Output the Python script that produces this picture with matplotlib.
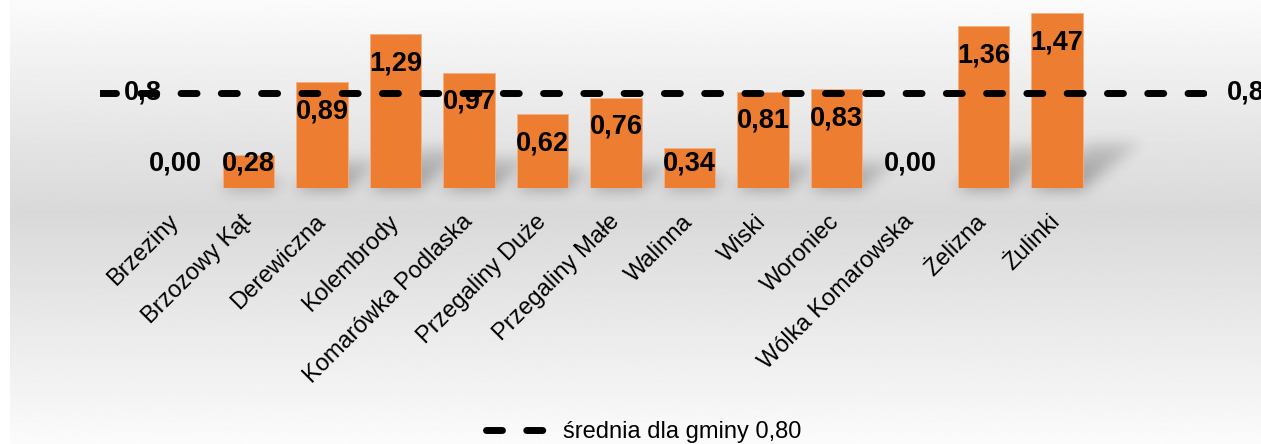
import numpy as np
import matplotlib
matplotlib.use('Agg')
import matplotlib.pyplot as plt

plt.rcParams['font.family'] = ['Liberation Sans', 'DejaVu Sans']

# sołectwa and their index values
villages = ['Brzeziny', 'Brzozowy Kąt', 'Derewiczna', 'Kolembrody',
            'Komarówka Podlaska', 'Przegaliny Duże', 'Przegaliny Małe',
            'Walinna', 'Wiski', 'Woroniec', 'Wólka Komarowska',
            'Żelizna', 'Żulinki']
values = [0.00, 0.28, 0.89, 1.29, 0.97, 0.62, 0.76, 0.34, 0.81, 0.83,
          0.00, 1.36, 1.47]
avg = 0.80
avg_label = 'średnia dla gminy 0,80'

W, H = 1261, 444
bar_w = 0.7
fig = plt.figure(figsize=(W / 100, H / 100), dpi=100)

# grey band in the background, light at top and bottom
bg = fig.add_axes([10 / W, 0, 1 - 10 / W, 1], zorder=-3)
rows = np.linspace(0, 1, 400)
mid = 0.48
shade = np.where(rows < mid, 0.985 - (0.985 - 0.85) * rows / mid,
                 0.85 + (0.985 - 0.85) * (rows - mid) / (1 - mid))
bg.imshow(np.repeat(shade[:, None], 2, axis=1), cmap='gray', vmin=0, vmax=1,
          aspect='auto', extent=(0, 1, 1, 0))
bg.set_axis_off()

ax_rect = [100 / W, (H - 188) / H, 1107 / W, 188 / H]
ax = fig.add_axes(ax_rect, zorder=0)
ax.patch.set_alpha(0)
x = np.arange(len(villages))
ax.set_xlim(-75 / 73.5, 1032 / 73.5)
ax.set_ylim(0, 188 / 119)
ax.bar(x, values, width=bar_w, color='#ED7D31', edgecolor='#F4B183', lw=0.6, zorder=2)

# soft slanted shadows behind the bars, built in pixel space and blurred
below = 15
x0, y0 = ax.transData.transform((ax.get_xlim()[0], 0))
gw, gh = 1107, 188 + below
gx = np.arange(gw)[None, :] + 0.5
gy = (np.arange(gh)[::-1] - below)[:, None] + 0.5
mask = np.zeros((gh, gw))
for i, v in zip(x, values):
    if v <= 0:
        continue
    xl = ax.transData.transform((i - bar_w / 2, 0))[0] - x0
    xr = ax.transData.transform((i + bar_w / 2, 0))[0] - x0
    h = ax.transData.transform((i, v))[1] - y0
    top = 0.26 * h
    shift = np.clip(gy, 0, None) * 1.3
    inside = (gy >= -2) & (gy <= top) & (gx >= xl + shift) & (gx <= xr + shift)
    fade = 1 - np.clip(gy, 0, None) / max(top, 1) * 0.6
    mask = np.maximum(mask, inside * fade)
sig = 7
k = np.exp(-0.5 * (np.arange(-3 * sig, 3 * sig + 1) / sig) ** 2)
k /= k.sum()
mask = np.apply_along_axis(lambda r: np.convolve(r, k, mode='same'), 1, mask)
mask = np.apply_along_axis(lambda c: np.convolve(c, k, mode='same'), 0, mask)
shadow = np.zeros((gh, gw, 4))
shadow[..., 3] = 0.32 * mask
sh_ax = fig.add_axes([ax_rect[0], (H - 188 - below) / H, ax_rect[2], gh / H], zorder=-1)
sh_ax.imshow(shadow, aspect='auto', extent=(0, 1, 0, 1), interpolation='bilinear')
sh_ax.set_axis_off()

def fmt(v, nd=2):
    return f'{v:.{nd}f}'.replace('.', ',')

for i, v in zip(x, values):
    ax.annotate(fmt(v), (i, max(v, 0.45)), xytext=(0, -21), textcoords='offset points',
                ha='center', va='center', fontsize=19.5, fontweight='bold', zorder=3)

ax.axhline(avg, color='black', lw=5, ls=(0, (2.3, 3.5)), dash_capstyle='round',
           label=avg_label, zorder=4)
ax.annotate(fmt(avg, 1), (0, avg), xycoords=('axes fraction', 'data'), xytext=(31, 0),
            textcoords='offset points', ha='center', va='center',
            fontsize=19.5, fontweight='bold', zorder=3)
ax.annotate(fmt(avg, 1), (1, avg), xycoords=('axes fraction', 'data'), xytext=(14, 0),
            textcoords='offset points', ha='left', va='center',
            fontsize=19.5, fontweight='bold', annotation_clip=False)

ax.set_xticks(x)
ax.set_xticklabels(villages, rotation=45, ha='right', va='center',
                   rotation_mode='anchor', fontsize=17)
ax.tick_params(axis='x', length=0, pad=22)
ax.set_yticks([])
for s in ax.spines.values():
    s.set_visible(False)

fig.legend(loc='center', bbox_to_anchor=(644 / W, 12 / H), frameon=False,
           fontsize=17, handlelength=2.5, handletextpad=0.76)

fig.savefig('out.png', dpi=100)
